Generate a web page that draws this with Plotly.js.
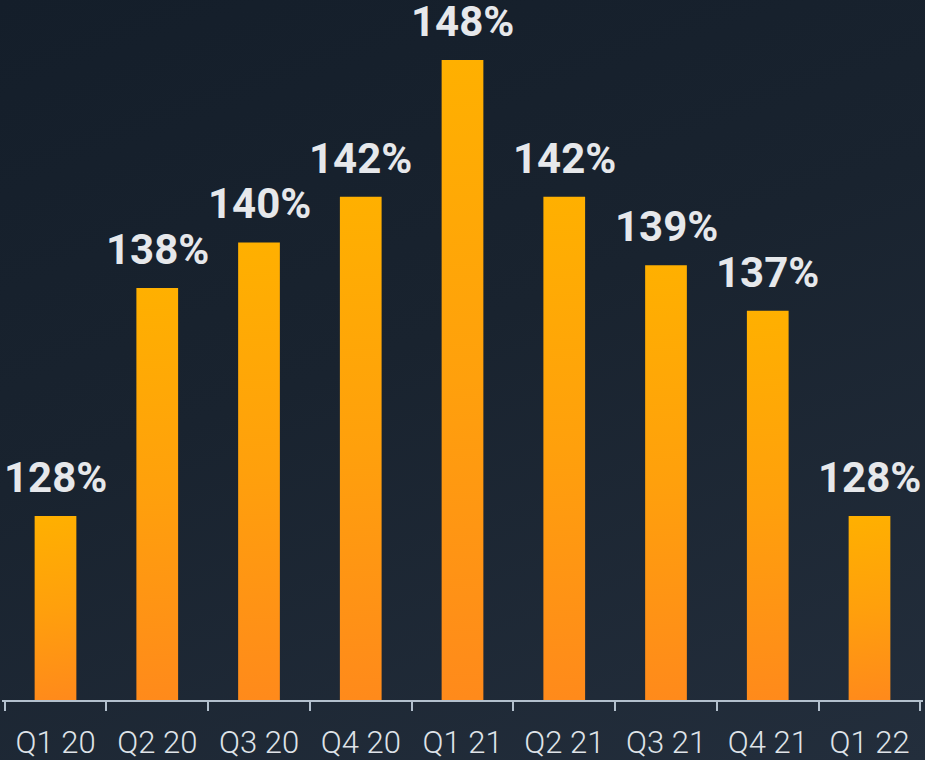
<!DOCTYPE html>
<html>
<head>
<meta charset="utf-8">
<script src="https://cdn.plot.ly/plotly-3.0.1.min.js"></script>
<style>
  html, body { margin: 0; padding: 0; }
  body { width: 925px; height: 760px; overflow: hidden;
         background: linear-gradient(160deg, #141e2a 0%, #19232f 45%, #232e3c 100%); }
  #chart { width: 925px; height: 760px; }
</style>
</head>
<body>
<div id="chart"></div>
<script>
const categories = ["Q1 20", "Q2 20", "Q3 20", "Q4 20", "Q1 21", "Q2 21", "Q3 21", "Q4 21", "Q1 22"];
const values = [128, 138, 140, 142, 148, 142, 139, 137, 128];
const labels = values.map(v => v + "%");

const trace = {
  type: "bar",
  x: categories,
  y: values,
  marker: { color: "#ff9e0d", line: { width: 0 } },
  hoverinfo: "skip"
};

const annotations = categories.map((c, i) => ({
  x: c, y: values[i], xref: "x", yref: "y",
  text: "<b>" + labels[i] + "</b>",
  showarrow: false, yanchor: "bottom", yshift: 12,
  font: { family: "Roboto, 'DejaVu Sans', sans-serif", size: 42, color: "#e6e8eb" }
}));

const layout = {
  width: 925, height: 760,
  margin: { l: 2, r: 2, t: 0, b: 60, autoexpand: false },
  paper_bgcolor: "rgba(0,0,0,0)",
  plot_bgcolor: "rgba(0,0,0,0)",
  bargap: 0.59,
  showlegend: false,
  xaxis: {
    type: "category",
    automargin: false,
    showline: true, linecolor: "#b3c0cd", linewidth: 2,
    ticks: "outside", tickson: "boundaries", ticklen: 9, tickwidth: 2, tickcolor: "#b3c0cd",
    showgrid: false, zeroline: false,
    tickfont: { family: "Roboto, sans-serif", size: 31, color: "#dfe3e8", weight: 300 },
    ticklabelstandoff: 14,
    fixedrange: true
  },
  yaxis: {
    automargin: false,
    range: [119.93, 119.93 + 700 / 22.8],
    visible: false, showgrid: false, zeroline: false, fixedrange: true
  },
  annotations: annotations
};

Plotly.newPlot("chart", [trace], layout, { staticPlot: true, displayModeBar: false }).then(gd => {
  const svg = gd.querySelector("svg.main-svg");
  const ns = "http://www.w3.org/2000/svg";
  let defs = svg.querySelector("defs");
  if (!defs) { defs = document.createElementNS(ns, "defs"); svg.insertBefore(defs, svg.firstChild); }
  const plotH = gd._fullLayout._size.h;
  const stops = [["0", "#ffb000"], ["0.5", "#ffa00c"], ["1", "#ff8a1b"]];
  gd.querySelectorAll(".bars .point path").forEach((p, i) => {
    const bb = p.getBBox();
    const top = bb.y;
    const bottom = Math.min(bb.y + bb.height, plotH);
    const grad = document.createElementNS(ns, "linearGradient");
    grad.setAttribute("id", "barGrad" + i);
    grad.setAttribute("gradientUnits", "userSpaceOnUse");
    grad.setAttribute("x1", bb.x); grad.setAttribute("y1", top);
    grad.setAttribute("x2", bb.x + bb.width * 0.6); grad.setAttribute("y2", bottom);
    stops.forEach(([o, c]) => {
      const s = document.createElementNS(ns, "stop");
      s.setAttribute("offset", o); s.setAttribute("stop-color", c);
      grad.appendChild(s);
    });
    defs.appendChild(grad);
    p.style.fill = "url(#barGrad" + i + ")";
  });
});
</script>
</body>
</html>
